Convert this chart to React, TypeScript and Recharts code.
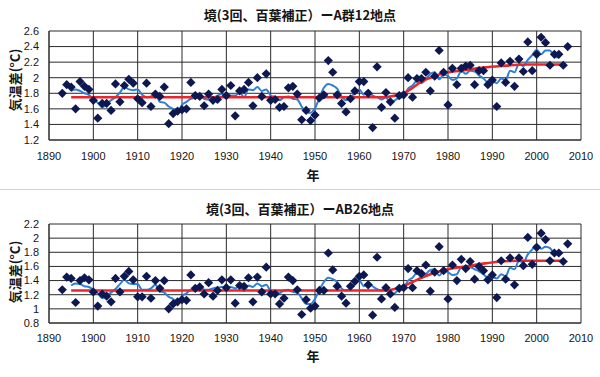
import React from 'react';
import { ComposedChart, Line, Scatter, XAxis, YAxis, CartesianGrid } from 'recharts';

// Years of the yearly observations (both panels)
const YEARS = [
  1893, 1894, 1895, 1896, 1897, 1898, 1899,
  1900, 1901, 1902, 1903, 1904, 1905, 1906, 1907, 1908, 1909,
  1910, 1911, 1912, 1913, 1914, 1915, 1916, 1917, 1918, 1919,
  1920, 1921, 1922, 1923, 1924, 1925, 1926, 1927, 1928, 1929,
  1930, 1931, 1932, 1933, 1934, 1935, 1936, 1937, 1938, 1939,
  1940, 1941, 1942, 1943, 1944, 1945, 1946, 1947, 1948, 1949,
  1950, 1951, 1952, 1953, 1954, 1955, 1956, 1957, 1958, 1959,
  1960, 1961, 1962, 1963, 1964, 1965, 1966, 1967, 1968, 1969,
  1970, 1971, 1972, 1973, 1974, 1975, 1976, 1977, 1978, 1979,
  1980, 1981, 1982, 1983, 1984, 1985, 1986, 1987, 1988, 1989,
  1990, 1991, 1992, 1993, 1994, 1995, 1996, 1997, 1998, 1999,
  2000, 2001, 2002, 2003, 2004, 2005, 2006, 2007,
];

// Panel A (A群12地点): yearly temperature difference
const TEMP_A = [
  1.80, 1.91, 1.88, 1.60, 1.95, 1.89, 1.85,
  1.71, 1.48, 1.67, 1.67, 1.58, 1.92, 1.69, 1.90, 1.98, 1.93,
  1.73, 1.68, 1.93, 1.63, 1.79, 1.76, 1.88, 1.41, 1.54, 1.57,
  1.59, 1.60, 1.94, 1.77, 1.76, 1.64, 1.79, 1.71, 1.72, 1.85,
  1.77, 1.90, 1.51, 1.83, 1.85, 1.94, 1.64, 2.00, 1.76, 2.05,
  1.71, 1.72, 1.62, 1.63, 1.87, 1.89, 1.79, 1.46, 1.58, 1.45,
  1.52, 1.74, 1.78, 2.22, 2.07, 1.78, 1.67, 1.56, 1.73, 1.83,
  1.95, 1.95, 1.80, 1.36, 2.14, 1.62, 1.81, 1.69, 1.48, 1.77,
  1.78, 2.00, 1.75, 1.99, 1.99, 2.07, 1.83, 2.02, 2.35, 2.07,
  1.65, 2.12, 1.91, 2.12, 2.15, 2.16, 1.91, 2.09, 2.09, 1.91,
  1.97, 1.63, 2.19, 1.94, 2.21, 1.89, 2.24, 2.08, 2.46, 2.09,
  2.30, 2.52, 2.45, 2.16, 2.30, 2.30, 2.16, 2.40,
];

// Panel AB (AB26地点): yearly temperature difference
const TEMP_AB = [
  1.27, 1.45, 1.43, 1.09, 1.40, 1.44, 1.41,
  1.24, 1.04, 1.21, 1.18, 1.10, 1.43, 1.24, 1.46, 1.53, 1.41,
  1.17, 1.17, 1.46, 1.15, 1.40, 1.29, 1.40, 1.00, 1.07, 1.10,
  1.13, 1.12, 1.48, 1.29, 1.31, 1.21, 1.37, 1.18, 1.26, 1.41,
  1.30, 1.41, 1.08, 1.33, 1.32, 1.44, 1.10, 1.45, 1.24, 1.59,
  1.21, 1.21, 1.07, 1.15, 1.45, 1.40, 1.27, 0.92, 1.13, 1.01,
  1.04, 1.26, 1.26, 1.79, 1.55, 1.32, 1.18, 1.08, 1.32, 1.39,
  1.46, 1.48, 1.34, 0.91, 1.73, 1.14, 1.30, 1.21, 1.02, 1.29,
  1.30, 1.57, 1.30, 1.54, 1.50, 1.62, 1.25, 1.52, 1.88, 1.54,
  1.14, 1.62, 1.40, 1.70, 1.57, 1.67, 1.42, 1.60, 1.54, 1.41,
  1.48, 1.16, 1.68, 1.42, 1.72, 1.34, 1.72, 1.61, 2.01, 1.63,
  1.87, 2.07, 1.98, 1.68, 1.79, 1.79, 1.67, 1.92,
];

// Years covered by the blue smoothed (moving-average) line
const SMOOTH_YEARS = YEARS.slice(2, YEARS.length - 2); // 1895 .. 2005

// Blue line values, panel A
const SMOOTH_A = [
  1.83, 1.85, 1.83, 1.80, 1.78,
  1.72, 1.68, 1.62, 1.66, 1.71, 1.75, 1.81, 1.88, 1.85, 1.84,
  1.85, 1.78, 1.75, 1.76, 1.80, 1.69, 1.68, 1.63, 1.60, 1.54,
  1.65, 1.69, 1.73, 1.74, 1.78, 1.73, 1.72, 1.74, 1.77, 1.79,
  1.75, 1.77, 1.77, 1.81, 1.75, 1.85, 1.84, 1.88, 1.83, 1.85,
  1.77, 1.75, 1.71, 1.75, 1.76, 1.73, 1.72, 1.63, 1.56, 1.55,
  1.61, 1.74, 1.87, 1.92, 1.90, 1.86, 1.76, 1.71, 1.75, 1.80,
  1.85, 1.78, 1.84, 1.77, 1.75, 1.72, 1.75, 1.67, 1.71, 1.74,
  1.76, 1.86, 1.90, 1.96, 1.93, 1.98, 2.05, 2.07, 1.98, 2.04,
  2.02, 1.97, 1.99, 2.09, 2.05, 2.09, 2.08, 2.03, 1.99, 1.94,
  1.96, 1.93, 1.99, 1.97, 2.09, 2.07, 2.18, 2.15, 2.23, 2.29,
  2.36, 2.30, 2.35, 2.35, 2.27, 2.26,
];

// Blue line values, panel AB
const SMOOTH_AB = [
  1.33, 1.36, 1.35, 1.32, 1.31,
  1.27, 1.22, 1.15, 1.19, 1.23, 1.28, 1.35, 1.41, 1.36, 1.35,
  1.35, 1.27, 1.27, 1.29, 1.34, 1.25, 1.23, 1.17, 1.14, 1.08,
  1.18, 1.22, 1.27, 1.28, 1.33, 1.27, 1.27, 1.29, 1.30, 1.31,
  1.29, 1.31, 1.29, 1.32, 1.25, 1.33, 1.31, 1.36, 1.32, 1.34,
  1.26, 1.25, 1.22, 1.26, 1.27, 1.24, 1.23, 1.15, 1.07, 1.07,
  1.14, 1.27, 1.38, 1.44, 1.42, 1.38, 1.29, 1.26, 1.29, 1.35,
  1.40, 1.32, 1.38, 1.32, 1.28, 1.26, 1.28, 1.19, 1.22, 1.28,
  1.30, 1.40, 1.44, 1.51, 1.44, 1.49, 1.55, 1.56, 1.47, 1.54,
  1.52, 1.48, 1.49, 1.59, 1.55, 1.59, 1.56, 1.53, 1.49, 1.44,
  1.45, 1.43, 1.49, 1.46, 1.58, 1.56, 1.68, 1.66, 1.77, 1.84,
  1.91, 1.85, 1.88, 1.86, 1.78, 1.77,
];

// Red trend curves (read at key years)
const TREND_YEARS_A = [1895, 1966, 1968, 1970, 1972, 1974, 1976, 1978, 1980, 1984, 1988, 1992, 1998, 2006];
const TREND_A = [1.75, 1.75, 1.77, 1.80, 1.87, 1.95, 2.00, 2.04, 2.07, 2.10, 2.13, 2.15, 2.17, 2.17];
const TREND_YEARS_AB = [1895, 1966, 1968, 1970, 1972, 1974, 1976, 1978, 1980, 1984, 1988, 1992, 1996, 2006];
const TREND_AB = [1.26, 1.26, 1.28, 1.32, 1.38, 1.44, 1.49, 1.53, 1.56, 1.60, 1.64, 1.67, 1.68, 1.68];

// Axis ticks
const X_TICKS = [1890, 1900, 1910, 1920, 1930, 1940, 1950, 1960, 1970, 1980, 1990, 2000, 2010];
const Y_TICKS_A = [1.2, 1.4, 1.6, 1.8, 2, 2.2, 2.4, 2.6];
const Y_TICKS_AB = [0.8, 1, 1.2, 1.4, 1.6, 1.8, 2, 2.2];

const TITLE_A = '境(3回、百葉補正）ーA群12地点';
const TITLE_AB = '境(3回、百葉補正）ーAB26地点';
const Y_LABEL = '気温差(°C)';
const X_LABEL = '年';

const JP_FONT = "'Noto Sans CJK JP', 'Noto Sans', sans-serif";
const NUM_FONT = "'Liberation Sans', Arial, sans-serif";

const zip = (xs: number[], ys: number[]) => xs.map((x, i) => ({ x, y: ys[i] }));

const Diamond = (props: any) => {
  const { cx, cy } = props;
  if (cx == null || cy == null) return null;
  const r = 4.6;
  return (
    <polygon
      points={`${cx},${cy - r} ${cx + r},${cy} ${cx},${cy + r} ${cx - r},${cy}`}
      fill="#0d1850"
    />
  );
};

type PanelProps = {
  top: number;
  height: number;
  marginTop: number;
  marginBottom: number;
  tickMargin: number;
  yTicks: number[];
  temps: number[];
  smooth: number[];
  trendYears: number[];
  trend: number[];
};

const Panel = (p: PanelProps) => {
  const pts = zip(YEARS, p.temps);
  const sm = zip(SMOOTH_YEARS, p.smooth);
  const tr = zip(p.trendYears, p.trend);
  const yMin = p.yTicks[0];
  const yMax = p.yTicks[p.yTicks.length - 1];
  return (
    <div style={{ position: 'absolute', left: 0, top: p.top }}>
      <ComposedChart
        width={600}
        height={p.height}
        margin={{ top: p.marginTop, right: 19, left: 0, bottom: p.marginBottom }}
      >
        <CartesianGrid stroke="#2a2a2a" strokeWidth={1} />
        <XAxis
          type="number"
          dataKey="x"
          domain={[1890, 2010]}
          ticks={X_TICKS}
          interval={0}
          allowDataOverflow
          height={30}
          tickLine={false}
          tickMargin={p.tickMargin}
          axisLine={{ stroke: '#2a2a2a' }}
          tick={{ fontSize: 11, fill: '#151515', fontFamily: NUM_FONT }}
        />
        <YAxis
          type="number"
          domain={[yMin, yMax]}
          ticks={p.yTicks}
          interval={0}
          allowDataOverflow
          width={49}
          tickLine={false}
          tickMargin={4}
          axisLine={{ stroke: '#2a2a2a' }}
          tickFormatter={(v: number) => String(v)}
          tick={{ fontSize: 11, fill: '#151515', fontFamily: NUM_FONT }}
        />
        <Scatter data={pts} dataKey="y" shape={Diamond} isAnimationActive={false} />
        <Line
          data={sm}
          dataKey="y"
          type="monotone"
          stroke="#2f7fd6"
          strokeWidth={2}
          dot={false}
          activeDot={false}
          isAnimationActive={false}
        />
        <Line
          data={tr}
          dataKey="y"
          type="monotone"
          stroke="#e8262e"
          strokeWidth={2.6}
          dot={false}
          activeDot={false}
          isAnimationActive={false}
        />
      </ComposedChart>
    </div>
  );
};

const textBase: React.CSSProperties = {
  position: 'absolute',
  fontFamily: JP_FONT,
  color: '#151515',
  whiteSpace: 'nowrap',
  lineHeight: 1,
};

export default function App() {
  return (
    <div
      style={{
        position: 'absolute',
        left: 0,
        top: 0,
        width: 600,
        height: 377,
        background: '#ffffff',
        overflow: 'hidden',
      }}
    >
      <Panel
        top={0}
        height={190}
        marginTop={31}
        marginBottom={20}
        tickMargin={6}
        yTicks={Y_TICKS_A}
        temps={TEMP_A}
        smooth={SMOOTH_A}
        trendYears={TREND_YEARS_A}
        trend={TREND_A}
      />
      <Panel
        top={190}
        height={187}
        marginTop={34}
        marginBottom={24}
        tickMargin={5}
        yTicks={Y_TICKS_AB}
        temps={TEMP_AB}
        smooth={SMOOTH_AB}
        trendYears={TREND_YEARS_AB}
        trend={TREND_AB}
      />
      <div style={{ position: 'absolute', left: 0, top: 189, width: 600, height: 0, borderTop: '1px solid #d4d4d4' }} />

      <div style={{ ...textBase, left: 0, width: 600, top: 8, textAlign: 'center', fontSize: 13, fontWeight: 'bold' }}>
        {TITLE_A}
      </div>
      <div style={{ ...textBase, left: 0, width: 600, top: 202, textAlign: 'center', fontSize: 13, fontWeight: 'bold' }}>
        {TITLE_AB}
      </div>

      <div style={{ ...textBase, left: 14, top: 80, fontSize: 13, fontWeight: 'bold', transform: 'translate(-50%, -50%) rotate(-90deg)' }}>
        {Y_LABEL}
      </div>
      <div style={{ ...textBase, left: 14, top: 272, fontSize: 13, fontWeight: 'bold', transform: 'translate(-50%, -50%) rotate(-90deg)' }}>
        {Y_LABEL}
      </div>

      <div style={{ ...textBase, left: 313, top: 174, fontSize: 13, fontWeight: 'bold', transform: 'translate(-50%, -50%)' }}>
        {X_LABEL}
      </div>
      <div style={{ ...textBase, left: 313, top: 355, fontSize: 13, fontWeight: 'bold', transform: 'translate(-50%, -50%)' }}>
        {X_LABEL}
      </div>
    </div>
  );
}
